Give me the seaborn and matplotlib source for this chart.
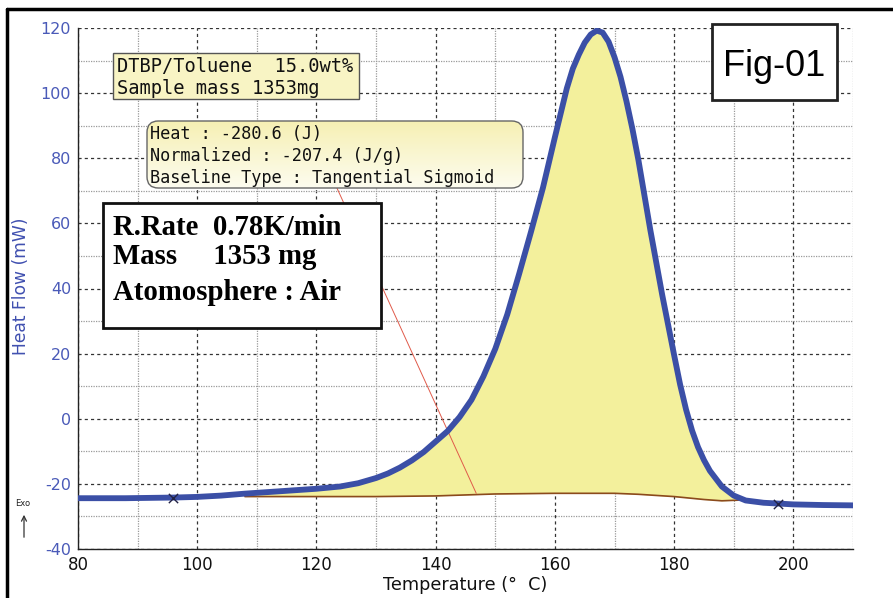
import numpy as np
import pandas as pd
import matplotlib
matplotlib.use("Agg")
import matplotlib.pyplot as plt
import seaborn as sns
from matplotlib.patches import Rectangle, FancyBboxPatch, FancyArrowPatch
from matplotlib.lines import Line2D
from matplotlib.ticker import MultipleLocator

# ---- data ----
temp = [80, 88, 96, 100, 104, 108, 112, 116, 120, 124, 127, 130, 132, 134, 136, 138,
        140, 142, 144, 146, 148, 150, 152, 154, 156, 158, 160, 162, 163, 164, 165, 166, 167,
        168, 169, 170, 171, 172, 173, 174, 176, 178, 180, 181, 182, 183, 184, 185, 186, 188,
        190, 192, 195, 198, 200, 205, 210]
heat = [-24.4, -24.4, -24.2, -24.0, -23.6, -23.0, -22.5, -22.0, -21.5, -20.8, -19.8,
        -18.2, -16.8, -15.0, -12.8, -10.2, -7.0, -3.8, 0.5, 5.8, 13.0, 21.5, 32.0,
        44.5, 57.5, 71.0, 86.5, 101.5, 107.5, 111.8, 115.5, 118.0, 119.2, 118.6, 115.8,
        111.0, 105.0, 97.5, 89.0, 79.5, 58.0, 38.0, 19.5, 10.5, 2.8, -3.6, -8.7, -12.7,
        -16.0, -20.8, -23.6, -25.1, -25.8, -26.1, -26.3, -26.5, -26.6]
base_t = [108, 120, 130, 140, 145, 150, 160, 170, 174, 180, 185, 188, 190.8]
base_h = [-23.9, -23.9, -23.9, -23.7, -23.4, -23.1, -22.9, -22.9, -23.2, -23.9, -24.8, -25.2, -25.0]
red_t = [123.4, 146.8]
red_h = [71.0, -22.9]
mark_t = [96, 197.5]
mark_h = [-24.2, -26.1]
yticks = [-40, -20, 0, 20, 40, 60, 80, 100, 120]
xticks = [80, 100, 120, 140, 160, 180, 200]

df = pd.DataFrame({"Temperature": temp, "Heat": heat})
bdf = pd.DataFrame({"Temperature": base_t, "Heat": base_h})
rdf = pd.DataFrame({"Temperature": red_t, "Heat": red_h})
mdf = pd.DataFrame({"Temperature": mark_t, "Heat": mark_h})

sns.set_theme(style="white")
plt.rcParams['font.family'] = ['DejaVu Sans']

W, H = 893, 598
fig = plt.figure(figsize=(W / 100, H / 100), dpi=100)
ax = fig.add_axes([78 / W, 1 - 549 / H, (853 - 78) / W, (549 - 28) / H])

ax.set_xlim(80, 210)
ax.set_ylim(-40, 120)
ax.xaxis.set_major_locator(MultipleLocator(20))
ax.xaxis.set_minor_locator(MultipleLocator(10))
ax.yaxis.set_major_locator(MultipleLocator(20))
ax.yaxis.set_minor_locator(MultipleLocator(10))
ax.grid(which="major", color="#333333", linestyle=(0, (2.5, 2.5)), linewidth=0.9, zorder=0)
ax.grid(which="minor", color="#9a9a9a", linestyle=(0, (1, 1)), linewidth=0.9, zorder=0)
ax.set_axisbelow(True)

# fill between curve and baseline
xf = np.linspace(base_t[0], base_t[-1], 400)
yc = np.interp(xf, temp, heat)
yb = np.interp(xf, base_t, base_h)
ax.fill_between(xf, yb, yc, color="#f3f09c", linewidth=0, zorder=1)

sns.lineplot(data=bdf, x="Temperature", y="Heat", ax=ax, color="#8b4a1c", linewidth=1.2, zorder=2)
sns.lineplot(data=rdf, x="Temperature", y="Heat", ax=ax, color="#e05a4a", linewidth=0.7, zorder=2)
sns.lineplot(data=df, x="Temperature", y="Heat", ax=ax, color="#3b4fa6", linewidth=4.2, zorder=3)
ax.lines[-1].set_solid_joinstyle("round")
ax.lines[-1].set_solid_capstyle("round")
sns.scatterplot(data=mdf, x="Temperature", y="Heat", ax=ax, marker="x", color="#222244",
                s=45, linewidth=1.0, zorder=4)

ax.set_xticks(xticks)
ax.set_yticks(yticks)
ax.set_xticklabels([str(v) for v in xticks], fontsize=12, color="#111111")
ax.set_yticklabels([str(v) for v in yticks], fontsize=11.5, color="#4a5ab8")
ax.tick_params(axis="both", which="major", length=4, width=0.8, color="#333333", pad=1)
ax.tick_params(axis="both", which="minor", length=3, width=0.6, color="#888888")
for s in ["top", "right"]:
    ax.spines[s].set_visible(False)
for s in ["left", "bottom"]:
    ax.spines[s].set_color("#222222")
    ax.spines[s].set_linewidth(1.0)
ax.set_xlabel("")
ax.set_ylabel("")


def fx(x):
    return x / W


def fy(y):
    return 1 - y / H


# axis labels
fig.text(fx(465), fy(585), "Temperature (°  C)", ha="center", va="center", fontsize=12.7, color="#111111")
fig.text(fx(21.5), fy(286), "Heat Flow (mW)", ha="center", va="center", rotation=90,
         fontsize=12.3, color="#4050b0")
fig.text(fx(23), fy(503), "Exo", ha="center", va="center", fontsize=6, color="#222222")
fig.add_artist(FancyArrowPatch((fx(24), fy(540)), (fx(24), fy(512)),
               transform=fig.transFigure, arrowstyle="->", mutation_scale=9, color="#333333", lw=0.9))

# outer frame
fig.add_artist(Line2D([fx(7), fx(7)], [0, fy(9)], transform=fig.transFigure, color="black", lw=2.5))
fig.add_artist(Line2D([fx(7), 1], [fy(9), fy(9)], transform=fig.transFigure, color="black", lw=2.5))

mono = ["DejaVu Sans Mono"]

# box 1
fig.add_artist(Rectangle((fx(113), fy(99)), (359 - 113) / W, (99 - 53) / H, transform=fig.transFigure,
                         facecolor="#f8f4c4", edgecolor="#555555", lw=1.0, zorder=5))
fig.text(fx(117), fy(67), "DTBP/Toluene  15.0wt%", fontsize=13.5, family=mono, va="center", ha="left",
         color="#111111", zorder=6)
fig.text(fx(117), fy(88), "Sample mass 1353mg", fontsize=13.5, family=mono, va="center", ha="left",
         color="#111111", zorder=6)

# box 2 (gradient fill, rounded)
bx0, by0, bx1, by1 = 147, 121, 523, 188
gax = fig.add_axes([fx(bx0), fy(by1), (bx1 - bx0) / W, (by1 - by0) / H], zorder=5)
grad = np.linspace(0, 1, 64).reshape(-1, 1)
cmap = matplotlib.colors.LinearSegmentedColormap.from_list("g", ["#f6f0b4", "#fdfcef"])
im = gax.imshow(grad, aspect="auto", cmap=cmap, extent=[0, 1, 0, 1], origin="upper")
clip = FancyBboxPatch((0, 0), 1, 1, boxstyle="round,pad=0,rounding_size=0.03",
                      transform=gax.transAxes, facecolor="none", edgecolor="#666666", lw=1.0,
                      mutation_aspect=(bx1 - bx0) / (by1 - by0))
gax.add_patch(clip)
im.set_clip_path(clip)
clip.set_clip_on(False)
gax.set_xlim(0, 1)
gax.set_ylim(0, 1)
gax.axis("off")
for i, line in enumerate(["Heat : -280.6 (J)", "Normalized : -207.4 (J/g)",
                          "Baseline Type : Tangential Sigmoid"]):
    gax.text(3 / (bx1 - bx0), 1 - ([134, 156, 178][i] - by0) / (by1 - by0), line, fontsize=12.2,
             family=mono, va="center", ha="left", color="#111111", transform=gax.transAxes)

# box 3
fig.add_artist(Rectangle((fx(103), fy(328)), (381 - 103) / W, (328 - 203) / H, transform=fig.transFigure,
                         facecolor="white", edgecolor="#111111", lw=2.0, zorder=5))
serif = ["Liberation Serif", "DejaVu Serif"]
fig.text(fx(113), fy(227), "R.Rate  0.78K/min", fontsize=20.7, fontweight="bold", family=serif,
         va="center", ha="left", color="black", zorder=6)
fig.text(fx(113), fy(257), "Mass     1353 mg", fontsize=20.7, fontweight="bold", family=serif,
         va="center", ha="left", color="black", zorder=6)
fig.text(fx(113), fy(293), "Atomosphere : Air", fontsize=20.7, fontweight="bold", family=serif,
         va="center", ha="left", color="black", zorder=6)

# Fig-01 box
fig.add_artist(Rectangle((fx(712), fy(100)), (837 - 712) / W, (100 - 24) / H, transform=fig.transFigure,
                         facecolor="white", edgecolor="#222222", lw=2.0, zorder=5))
fig.text(fx(774), fy(67), "Fig-01", fontsize=26, family=["Liberation Sans", "DejaVu Sans"],
         va="center", ha="center", color="black", zorder=6)

fig.savefig("out.png", dpi=100)
